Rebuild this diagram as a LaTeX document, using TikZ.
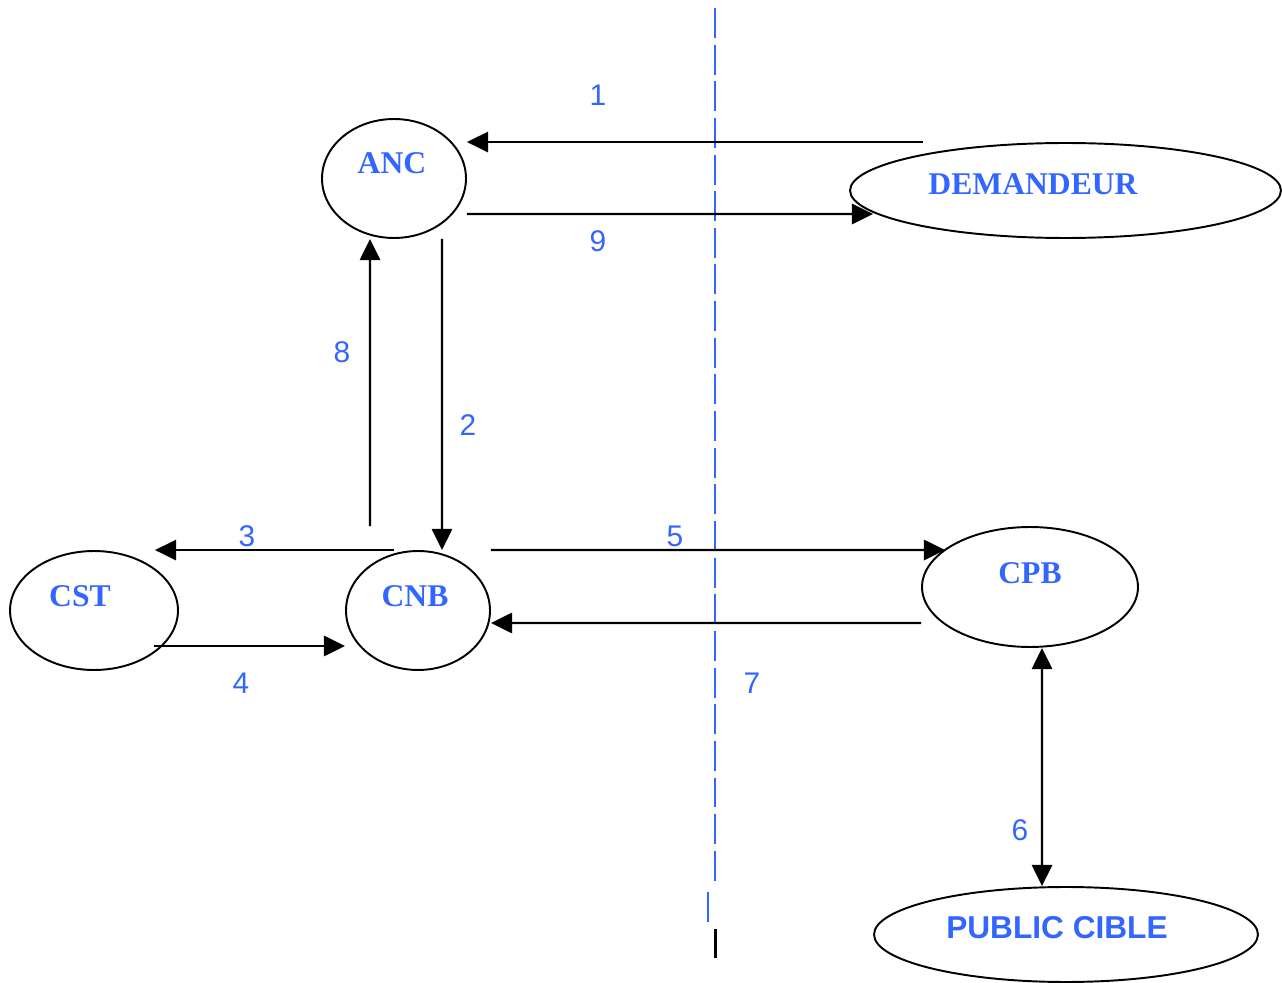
\documentclass[tikz,border=0pt]{standalone}
\usepackage{fontspec}
\setmainfont{Liberation Serif}
\setsansfont{Liberation Sans}
\usetikzlibrary{arrows.meta,shapes.geometric}
\definecolor{lblue}{RGB}{51,102,255}
\begin{document}
\begin{tikzpicture}[x=0.02cm, y=-0.02cm,
  ell/.style={ellipse, draw, line width=1.1pt, inner sep=0pt},
  actor/.style={text=lblue, font=\fontsize{18}{18}\selectfont\bfseries},
  num/.style={text=lblue, font=\sffamily\fontsize{17}{17}\selectfont},
  flow/.style={-{Triangle[length=12pt,width=11.5pt]}, line width=1.2pt},
  both/.style={{Triangle[length=12pt,width=11.5pt]}-{Triangle[length=12pt,width=11.5pt]}, line width=1.2pt},
  sep/.style={lblue, line width=1.2pt, dash pattern=on 0.6cm off 0.133cm}]
\useasboundingbox (0,0) rectangle (1282,983);
% separation line
\coordinate (sep-a) at (715,8);
\coordinate (sep-b) at (715,886);
\coordinate (sep-c) at (708,892);
\coordinate (sep-d) at (708,922);
\coordinate (sep-e) at (715,929);
\coordinate (sep-f) at (715,958);
\draw[sep] (sep-a) -- (sep-b);
\draw[lblue, line width=1.3pt] (sep-c) -- (sep-d);
\draw[line width=1.7pt] (sep-e) -- (sep-f);
% actors
\node[ell, minimum width=2.88cm, minimum height=2.38cm] (anc) at (394,178.5){};
\node[actor] (anc-t) at (392,163){ANC};
\node[ell, minimum width=8.62cm, minimum height=1.9cm] (dem) at (1065.5,190.5){};
\node[actor] (dem-t) at (1033,184){DEMANDEUR};
\node[ell, minimum width=3.36cm, minimum height=2.38cm] (cst) at (94,610.5){};
\node[actor] (cst-t) at (80,596){CST};
\node[ell, minimum width=2.88cm, minimum height=2.38cm] (cnb) at (418,610.5){};
\node[actor] (cnb-t) at (415,596){CNB};
\node[ell, minimum width=4.32cm, minimum height=2.4cm] (cpb) at (1030,587){};
\node[actor] (cpb-t) at (1030,573){CPB};
\node[ell, minimum width=7.68cm, minimum height=1.9cm] (pub) at (1066,934.5){};
\node[actor, font=\sffamily\fontsize{18}{18}\selectfont\bfseries] (pub-t) at (1057,928){PUBLIC CIBLE};
% flows
\draw[flow] ([xshift=-2.86cm]dem.north) -- (anc.east |- dem.north);
\draw[flow] ([yshift=-0.71cm]anc.east) -- ([xshift=0.48cm,yshift=-0.47cm]dem.west);
\draw[flow] ([xshift=0.96cm]anc.south) -- ([xshift=0.48cm]cnb.north);
\draw[flow] ([xshift=-0.96cm,yshift=0.48cm]cnb.north) -- ([xshift=-0.48cm]anc.south);
\draw[flow] ([xshift=-0.48cm]cnb.north) -- ([xshift=1.22cm]cst.north);
\draw[flow] ([xshift=-0.5cm,yshift=-0.71cm]cst.east) -- ([yshift=-0.71cm]cnb.west);
\draw[flow] (cnb.east |- cnb.north) -- ([xshift=0.48cm,yshift=0.74cm]cpb.west);
\draw[flow] ([yshift=-0.72cm]cpb.west) -- ([yshift=-0.25cm]cnb.east);
\draw[both] ([xshift=0.24cm]cpb.south) -- ([xshift=-0.48cm]pub.north);
% step numbers
\node[num] (n1) at (598,95){1};
\node[num] (n2) at (468,425){2};
\node[num] (n3) at (247,536){3};
\node[num] (n4) at (241,683){4};
\node[num] (n5) at (675,536){5};
\node[num] (n6) at (1020,830){6};
\node[num] (n7) at (752,683){7};
\node[num] (n8) at (342,352){8};
\node[num] (n9) at (598,241){9};
\end{tikzpicture}
\end{document}
